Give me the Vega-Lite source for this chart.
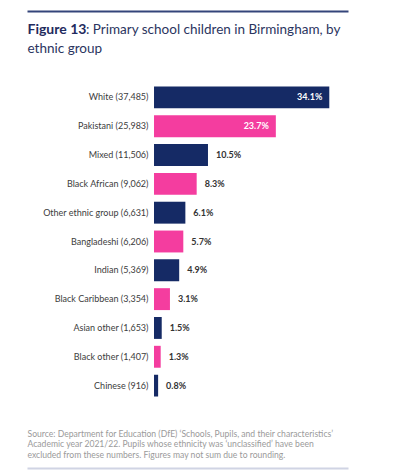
{
  "$schema": "https://vega.github.io/schema/vega-lite/v6.json",
  "autosize": {"type": "none"},
  "width": 321,
  "height": 317,
  "padding": {"left": 27, "top": 83, "right": 52, "bottom": 71},
  "background": "white",
  "config": {
    "view": {"stroke": null},
    "font": "Lato",
    "axis": {"grid": false, "labels": false, "ticks": false, "domain": false, "titleFont": "Lato"}
  },
  "data": {
    "values": [
      {"group": "White (37,485)", "share": 0.341, "shade": "navy"},
      {"group": "Pakistani (25,983)", "share": 0.237, "shade": "pink"},
      {"group": "Mixed (11,506)", "share": 0.105, "shade": "navy"},
      {"group": "Black African (9,062)", "share": 0.083, "shade": "pink"},
      {"group": "Other ethnic group (6,631)", "share": 0.061, "shade": "navy"},
      {"group": "Bangladeshi (6,206)", "share": 0.057, "shade": "pink"},
      {"group": "Indian (5,369)", "share": 0.049, "shade": "navy"},
      {"group": "Black Caribbean (3,354)", "share": 0.031, "shade": "pink"},
      {"group": "Asian other (1,653)", "share": 0.015, "shade": "navy"},
      {"group": "Black other (1,407)", "share": 0.013, "shade": "pink"},
      {"group": "Chinese (916)", "share": 0.008, "shade": "navy"}
    ]
  },
  "encoding": {
    "y": {
      "field": "group", "type": "nominal", "sort": null,
      "scale": {"paddingInner": 0.24, "paddingOuter": 0.12},
      "axis": {
        "orient": "left", "offset": -127, "labels": true, "labelPadding": 6,
        "labelFontSize": 9, "labelColor": "#3c3c3c", "labelFont": "Lato",
        "title": "ethnic group", "titleAngle": 0, "titleX": -127, "titleY": -31,
        "titleAlign": "left", "titleBaseline": "alphabetic",
        "titleFontSize": 13.5, "titleFontWeight": "normal", "titleColor": "#2b3560"
      }
    }
  },
  "resolve": {"axis": {"x": "independent"}},
  "layer": [
    {
      "mark": {"type": "bar"},
      "encoding": {
        "x": {
          "field": "share", "type": "quantitative",
          "scale": {"domain": [-0.2471, 0.3774], "nice": false, "zero": false},
          "axis": {
            "orient": "top", "offset": 72, "domain": true, "domainColor": "#34457a", "domainWidth": 2,
            "title": "Figure 13", "titleX": 0, "titleY": 22, "titleAlign": "left", "titleBaseline": "alphabetic",
            "titleFontSize": 14, "titleFontWeight": "bold", "titleColor": "#1f2b5e"
          }
        },
        "color": {
          "field": "shade", "type": "nominal",
          "scale": {"domain": ["navy", "pink"], "range": ["#152a65", "#f43d9f"]},
          "legend": null
        }
      }
    },
    {
      "transform": [{"filter": "datum.share > 0.2"}],
      "mark": {"type": "text", "align": "right", "baseline": "middle", "dx": -7, "fontSize": 9, "fontWeight": "bold", "color": "white"},
      "encoding": {
        "x": {
          "field": "share", "type": "quantitative",
          "axis": {
            "orient": "top", "offset": 72,
            "title": ": Primary school children in Birmingham, by", "titleX": 58.5, "titleY": 22,
            "titleAlign": "left", "titleBaseline": "alphabetic",
            "titleFontSize": 13.5, "titleFontWeight": "normal", "titleColor": "#2b3560"
          }
        },
        "text": {"field": "share", "type": "quantitative", "format": ".1%"}
      }
    },
    {
      "transform": [{"filter": "datum.share <= 0.2"}],
      "mark": {"type": "text", "align": "left", "baseline": "middle", "dx": 8, "fontSize": 9, "fontWeight": "bold", "color": "#333333"},
      "encoding": {
        "x": {
          "field": "share", "type": "quantitative",
          "axis": {
            "orient": "bottom", "offset": 68, "domain": true, "domainColor": "#d0d4e4", "domainWidth": 2,
            "title": [
              "Source: Department for Education (DfE) ‘Schools, Pupils, and their characteristics’",
              "Academic year 2021/22. Pupils whose ethnicity was ‘unclassified’ have been",
              "excluded from these numbers. Figures may not sum due to rounding."
            ],
            "titleX": 0, "titleY": -32, "titleAlign": "left", "titleBaseline": "alphabetic",
            "titleFontSize": 8.6, "titleFontWeight": "normal", "titleColor": "#9a9a9a", "titleLineHeight": 10.5
          }
        },
        "text": {"field": "share", "type": "quantitative", "format": ".1%"}
      }
    }
  ]
}
